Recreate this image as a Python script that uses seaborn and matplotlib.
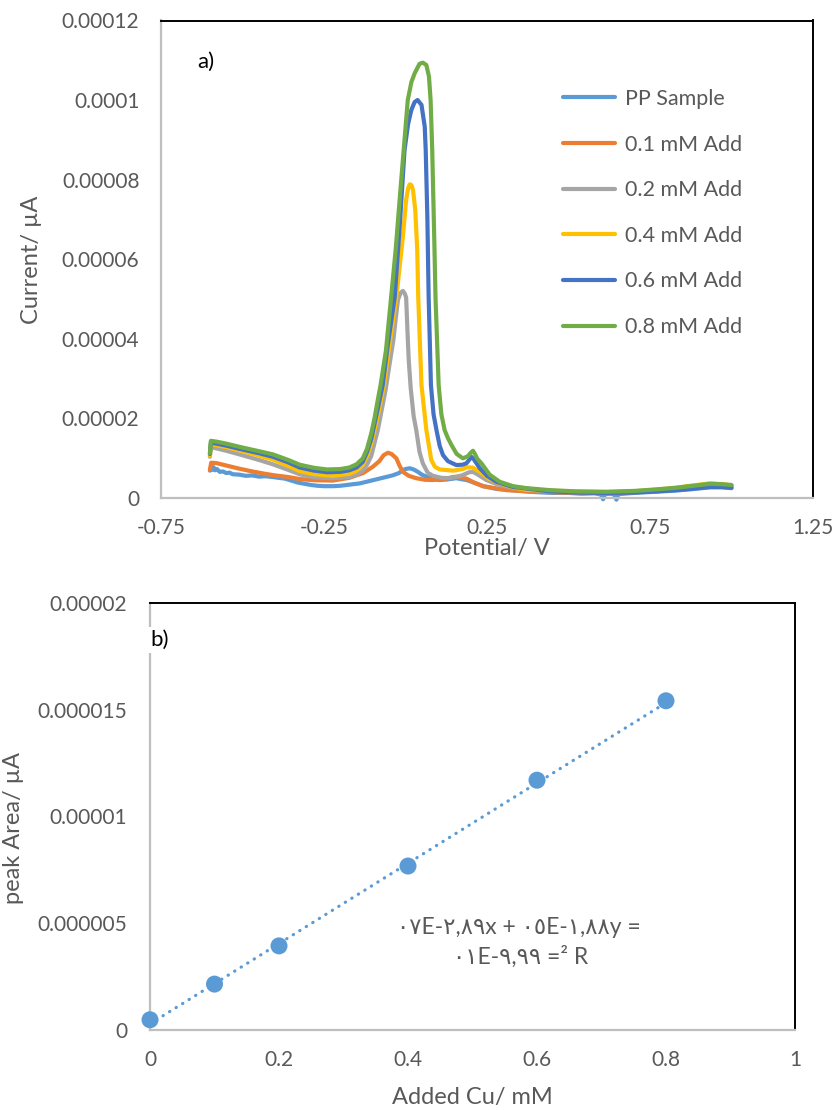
import numpy as np
import pandas as pd
import matplotlib
matplotlib.use("Agg")
import matplotlib.pyplot as plt
from matplotlib.lines import Line2D
import seaborn as sns

sns.set_theme(style="white")
plt.rcParams["font.family"] = ["Lato", "DejaVu Sans"]
plt.rcParams["lines.solid_capstyle"] = "round"
plt.rcParams["lines.solid_joinstyle"] = "round"

TEXT_GREY = "#595959"

# ---------------- a) voltammograms (current in units of 1e-6) ----------------
series_labels = ["PP Sample", "0.1 mM Add", "0.2 mM Add",
                 "0.4 mM Add", "0.6 mM Add", "0.8 mM Add"]
series_colors = ["#5B9BD5", "#ED7D31", "#A5A5A5", "#FFC000", "#4472C4", "#70AD47"]
CURRENT_UNIT = 1e-6

pp_potential = [-0.600, -0.597, -0.593, -0.589, -0.584, -0.578, -0.570, -0.560, -0.55, -0.54,
                -0.53, -0.51, -0.49, -0.47, -0.45, -0.43, -0.407, -0.39, -0.37, -0.35,
                -0.33, -0.31, -0.29, -0.27, -0.25, -0.22, -0.20, -0.17, -0.14, -0.12,
                -0.10, -0.08, -0.06, -0.04, -0.02, -0.008, 0.005, 0.013, 0.025, 0.038,
                0.050, 0.064, 0.085, 0.105, 0.13, 0.156, 0.175, 0.187, 0.21, 0.238,
                0.28, 0.34, 0.40, 0.45, 0.50, 0.54, 0.58, 0.600, 0.606, 0.612,
                0.630, 0.642, 0.647, 0.653, 0.70, 0.77, 0.83, 0.873, 0.934, 0.97, 1.000]
pp_current = [6.8, 7.6, 7.0, 7.7, 6.9, 7.2, 6.5, 6.6, 6.2, 6.3,
              5.9, 5.8, 5.5, 5.6, 5.3, 5.4, 5.2, 5.0, 4.8, 4.3,
              3.8, 3.5, 3.2, 3.0, 2.9, 2.9, 3.0, 3.3, 3.6, 4.0,
              4.4, 4.8, 5.2, 5.6, 6.2, 7.0, 7.3, 7.4, 7.1, 6.5,
              5.8, 5.3, 4.7, 4.45, 4.6, 4.9, 4.6, 4.45, 3.8, 2.9,
              2.2, 1.8, 1.4, 1.2, 1.2, 1.0, 1.1, 0.8, -0.4, 0.9,
              1.0, 0.7, -0.5, 0.9, 1.2, 1.5, 1.8, 2.1, 2.6, 2.6, 2.4]

add01_potential = [-0.600, -0.596, -0.58, -0.55, -0.51, -0.47, -0.43, -0.40, -0.36, -0.325,
                   -0.28, -0.223, -0.172, -0.13, -0.10, -0.080, -0.067, -0.054, -0.043, -0.028,
                   -0.018, -0.008, 0.010, 0.033, 0.060, 0.084, 0.105, 0.125, 0.145, 0.161,
                   0.175, 0.187, 0.210, 0.238, 0.310, 0.37, 0.443, 0.52, 0.617, 0.70,
                   0.77, 0.83, 0.873, 0.934, 0.97, 1.000]
add01_current = [7.0, 8.8, 8.7, 8.1, 7.3, 6.6, 6.0, 5.6, 5.2, 4.7,
                 4.4, 4.3, 5.0, 6.2, 7.8, 9.2, 10.7, 11.3, 11.0, 9.9,
                 8.0, 6.5, 5.5, 4.9, 4.5, 4.45, 4.6, 4.8, 5.2, 5.3,
                 5.0, 4.8, 3.8, 2.9, 1.9, 1.6, 1.4, 1.2, 1.2, 1.4,
                 1.7, 2.1, 2.5, 3.1, 3.1, 2.9]

add02_potential = [-0.600, -0.597, -0.58, -0.55, -0.51, -0.45, -0.407, -0.36, -0.325, -0.28,
                   -0.223, -0.172, -0.15, -0.131, -0.118, -0.105, -0.085, -0.061, -0.050, -0.037,
                   -0.030, -0.023, -0.015, -0.008, -0.002, 0.002, 0.006, 0.010, 0.016, 0.025,
                   0.033, 0.043, 0.053, 0.068, 0.084, 0.110, 0.135, 0.160, 0.176, 0.195,
                   0.207, 0.220, 0.248, 0.280, 0.310, 0.37, 0.443, 0.52, 0.617, 0.70,
                   0.77, 0.83, 0.873, 0.934, 0.97, 1.000]
add02_current = [10.3, 12.7, 12.4, 11.8, 10.9, 9.5, 8.4, 7.0, 5.9, 5.1,
                 4.9, 5.2, 5.8, 6.8, 8.3, 10.5, 17.0, 27.1, 33.0, 39.7,
                 45.0, 49.8, 51.5, 52.0, 51.3, 50.3, 42.0, 34.5, 27.5, 20.5,
                 17.0, 11.5, 8.65, 6.3, 5.5, 5.0, 4.9, 5.3, 5.7, 6.4,
                 6.5, 5.9, 4.45, 3.4, 2.8, 2.0, 1.6, 1.3, 1.3, 1.5,
                 1.8, 2.2, 2.6, 3.2, 3.2, 3.0]

add04_potential = [-0.600, -0.597, -0.58, -0.55, -0.51, -0.45, -0.407, -0.36, -0.325, -0.28,
                   -0.223, -0.172, -0.15, -0.131, -0.118, -0.105, -0.088, -0.066, -0.050, -0.028,
                   -0.008, 0.002, 0.008, 0.013, 0.018, 0.023, 0.030, 0.036, 0.039, 0.049,
                   0.064, 0.079, 0.090, 0.105, 0.146, 0.175, 0.187, 0.205, 0.228, 0.255,
                   0.289, 0.33, 0.37, 0.443, 0.52, 0.617, 0.70, 0.77, 0.83, 0.873,
                   0.934, 0.97, 1.000]
add04_current = [10.6, 13.4, 13.2, 12.7, 11.9, 10.6, 9.6, 8.0, 6.7, 5.9,
                 5.5, 6.0, 6.8, 8.2, 10.6, 13.5, 19.5, 28.3, 38.0, 50.5,
                 65.6, 74.9, 77.8, 78.8, 78.6, 77.4, 72.3, 62.3, 50.5, 28.3,
                 17.0, 9.5, 7.8, 7.1, 6.8, 7.2, 7.6, 7.6, 6.5, 4.8,
                 3.6, 2.6, 2.0, 1.8, 1.5, 1.4, 1.6, 2.0, 2.5, 3.0,
                 3.6, 3.4, 3.1]

add06_potential = [-0.600, -0.597, -0.58, -0.55, -0.51, -0.45, -0.407, -0.36, -0.325, -0.28,
                   -0.24, -0.20, -0.172, -0.15, -0.131, -0.118, -0.105, -0.090, -0.070, -0.055,
                   -0.033, -0.018, -0.003, 0.008, 0.018, 0.028, 0.037, 0.049, 0.059, 0.062,
                   0.067, 0.071, 0.078, 0.086, 0.095, 0.105, 0.115, 0.130, 0.156, 0.175,
                   0.187, 0.196, 0.202, 0.210, 0.228, 0.250, 0.279, 0.33, 0.391, 0.443,
                   0.52, 0.617, 0.70, 0.77, 0.83, 0.873, 0.934, 0.97, 1.000]
add06_current = [11.0, 13.8, 13.6, 13.1, 12.3, 11.2, 10.3, 8.9, 7.6, 6.8,
                 6.4, 6.5, 6.9, 7.6, 9.05, 11.5, 14.8, 20.5, 28.3, 38.0,
                 50.5, 68.0, 87.4, 94.0, 97.5, 99.5, 100.0, 98.8, 93.3, 87.4,
                 70.7, 50.5, 28.3, 21.0, 17.0, 13.0, 10.7, 9.2, 8.2, 8.3,
                 8.65, 9.6, 10.3, 9.6, 7.4, 5.5, 4.0, 2.7, 2.1, 1.6,
                 1.3, 1.2, 1.3, 1.6, 1.9, 2.2, 2.7, 2.7, 2.5]

add08_potential = [-0.600, -0.597, -0.58, -0.55, -0.51, -0.45, -0.407, -0.36, -0.325, -0.28,
                   -0.24, -0.20, -0.172, -0.15, -0.131, -0.118, -0.105, -0.095, -0.085, -0.0765,
                   -0.060, -0.044, -0.030, -0.018, -0.005, 0.007, 0.018, 0.028, 0.043, 0.053,
                   0.064, 0.072, 0.077, 0.082, 0.089, 0.092, 0.1017, 0.110, 0.120, 0.130,
                   0.141, 0.157, 0.176, 0.191, 0.200, 0.207, 0.213, 0.220, 0.233, 0.258,
                   0.289, 0.33, 0.371, 0.443, 0.52, 0.617, 0.70, 0.770, 0.83, 0.873,
                   0.934, 0.97, 1.000]
add08_current = [11.2, 14.3, 14.1, 13.6, 12.8, 11.7, 10.9, 9.5, 8.3, 7.5,
                 7.1, 7.2, 7.6, 8.4, 9.9, 12.3, 16.2, 20.0, 24.6, 28.3,
                 37.0, 50.5, 62.5, 74.9, 88.0, 100.0, 104.5, 106.7, 109.1, 109.4,
                 108.8, 105.9, 100.0, 87.4, 62.3, 50.5, 28.3, 21.0, 17.0, 15.0,
                 13.25, 11.0, 9.9, 10.4, 11.3, 11.8, 11.0, 9.8, 8.65, 5.8,
                 4.0, 2.9, 2.4, 1.9, 1.6, 1.5, 1.7, 2.1, 2.5, 2.9,
                 3.5, 3.4, 3.2]

potential_ticks = [-0.75, -0.25, 0.25, 0.75, 1.25]
potential_ticklabels = ["-0.75", "-0.25", "0.25", "0.75", "1.25"]
current_ticks = [0, 0.00002, 0.00004, 0.00006, 0.00008, 0.0001, 0.00012]
current_ticklabels = ["0", "0.00002", "0.00004", "0.00006", "0.00008", "0.0001", "0.00012"]

# ---------------- b) calibration ----------------
added_cu = [0, 0.1, 0.2, 0.4, 0.6, 0.8]
peak_area = [4.8e-7, 2.15e-6, 3.94e-6, 7.68e-6, 1.170e-5, 1.542e-5]
fit_slope = 1.88e-05
fit_intercept = 2.89e-07
equation_line1 = "٠٧E-٢,٨٩x + ٠٥E-١,٨٨y ="
equation_line2 = "٠١E-٩,٩٩ =² R"
cu_ticks = [0, 0.2, 0.4, 0.6, 0.8, 1]
cu_ticklabels = ["0", "0.2", "0.4", "0.6", "0.8", "1"]
area_ticks = [0, 0.000005, 0.00001, 0.000015, 0.00002]
area_ticklabels = ["0", "0.000005", "0.00001", "0.000015", "0.00002"]

# ---------------- figure ----------------
W, H = 836, 1110
fig = plt.figure(figsize=(W / 100, H / 100), dpi=100)
fig.patch.set_facecolor("white")


def frac_box(left, top, right, bottom):
    return [left / W, 1 - bottom / H, (right - left) / W, (bottom - top) / H]


ax1 = fig.add_axes(frac_box(161, 20.5, 813, 497.7))
ax2 = fig.add_axes(frac_box(150, 603, 795, 1030))

frames = []
pairs = [(pp_potential, pp_current), (add01_potential, add01_current),
         (add02_potential, add02_current), (add04_potential, add04_current),
         (add06_potential, add06_current), (add08_potential, add08_current)]
for label, (e, i) in zip(series_labels, pairs):
    frames.append(pd.DataFrame({"Potential": e,
                                "Current": np.asarray(i) * CURRENT_UNIT,
                                "Series": label}))
curves = pd.concat(frames, ignore_index=True)
palette = dict(zip(series_labels, series_colors))

sns.lineplot(data=curves, x="Potential", y="Current", hue="Series",
             hue_order=series_labels, palette=palette, sort=False,
             estimator=None, linewidth=3.0, legend=False, ax=ax1)
for ln in ax1.lines:
    ln.set_clip_on(False)

ax1.set_xlim(-0.75, 1.25)
ax1.set_ylim(0, 0.00012)
ax1.set_xticks(potential_ticks)
ax1.set_xticklabels(potential_ticklabels)
ax1.set_yticks(current_ticks)
ax1.set_yticklabels(current_ticklabels)
ax1.set_xlabel("Potential/ V", fontsize=17, color=TEXT_GREY, va="center")
ax1.set_ylabel("Current/ µA", fontsize=17, color=TEXT_GREY, va="center")
ax1.xaxis.set_label_coords(0.5, -0.1075)
ax1.yaxis.set_label_coords(-0.198, 0.498)
ax1.tick_params(axis="x", length=0, pad=14.5, labelsize=15, labelcolor=TEXT_GREY)
ax1.tick_params(axis="y", length=0, pad=15.5, labelsize=15, labelcolor=TEXT_GREY)

handles = [Line2D([0], [0], color=c, lw=3.0) for c in series_colors]
leg = ax1.legend(handles, series_labels, loc="upper left",
                 bbox_to_anchor=(0.6166, 0.8565), frameon=False, fontsize=15.5,
                 handlelength=2.4, handletextpad=0.5, labelspacing=1.19,
                 borderaxespad=0, borderpad=0, labelcolor=TEXT_GREY)
ax1.text(0.055, 0.913, "a)", transform=ax1.transAxes, fontsize=16,
         color="black", ha="left", va="center")

# calibration panel
fit_x = np.array([added_cu[0], added_cu[-1]])
fit_y = fit_slope * fit_x + fit_intercept
sns.lineplot(x=fit_x, y=fit_y, color="#5B9BD5", linewidth=2.3,
             linestyle=(0, (0.1, 2.3)), dash_capstyle="round", ax=ax2)
sns.scatterplot(x=added_cu, y=peak_area, color="#5B9BD5", s=150,
                edgecolor="none", zorder=3, clip_on=False, ax=ax2)

ax2.set_xlim(0, 1)
ax2.set_ylim(0, 0.00002)
ax2.set_xticks(cu_ticks)
ax2.set_xticklabels(cu_ticklabels)
ax2.set_yticks(area_ticks)
ax2.set_yticklabels(area_ticklabels)
ax2.set_xlabel("Added Cu/ mM", fontsize=17, color=TEXT_GREY, va="center")
ax2.set_ylabel("peak Area/ µA", fontsize=17, color=TEXT_GREY, va="center")
ax2.xaxis.set_label_coords(0.5, -0.157)
ax2.yaxis.set_label_coords(-0.211, 0.473)
ax2.tick_params(axis="x", length=0, pad=14.5, labelsize=15, labelcolor=TEXT_GREY)
ax2.tick_params(axis="y", length=0, pad=16.5, labelsize=15, labelcolor=TEXT_GREY)

ax2.text(0.0, 0.913, "b)", transform=ax2.transAxes, fontsize=16, color="black",
         ha="left", va="center", zorder=5,
         bbox=dict(facecolor="white", edgecolor="none", pad=2))
ax2.text(0.572, 0.241, equation_line1, transform=ax2.transAxes, fontsize=16.5,
         color=TEXT_GREY, ha="center", va="center")
ax2.text(0.574, 0.171, equation_line2, transform=ax2.transAxes, fontsize=16.5,
         color=TEXT_GREY, ha="center", va="center")

for ax in (ax1, ax2):
    ax.set_facecolor("white")
    ax.grid(False)
    for side in ("top", "right"):
        ax.spines[side].set_color("black")
        ax.spines[side].set_linewidth(1.4)
    for side in ("left", "bottom"):
        ax.spines[side].set_color("#BFBFBF")
        ax.spines[side].set_linewidth(1.6)

fig.savefig("out.png", dpi=100)
